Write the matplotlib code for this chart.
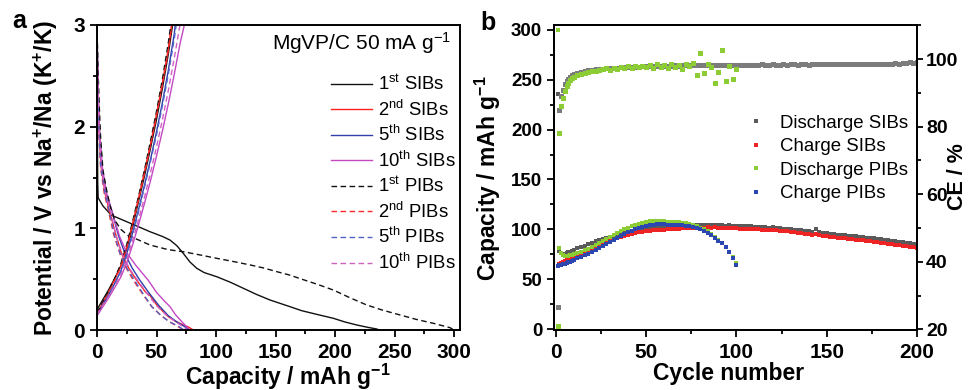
import matplotlib
matplotlib.use("Agg")
import matplotlib.pyplot as plt
from matplotlib.ticker import MultipleLocator

plt.rcParams["font.family"] = "Liberation Sans"
plt.rcParams["font.weight"] = "bold"
plt.rcParams["axes.labelweight"] = "bold"
plt.rcParams["mathtext.default"] = "regular"

# ---------------- panel a: galvanostatic profiles (capacity, potential) ----------------
# discharge branches
sib1_dis_x = [0, 0.3, 0.6, 1, 5, 12, 22, 32, 44.5, 55, 61.3, 67, 72.5, 78, 83.8, 90, 100.6, 112, 123, 134,
              145.4, 162, 172, 186, 198.6, 208, 218, 228, 235, 237]
sib1_dis_y = [3.0, 2.0, 1.45, 1.3, 1.22, 1.13, 1.08, 1.03, 0.967, 0.92, 0.885, 0.83, 0.754, 0.67, 0.607, 0.565, 0.524, 0.47, 0.41, 0.35,
              0.295, 0.23, 0.19, 0.15, 0.115, 0.08, 0.05, 0.025, 0.01, 0.0]
pib1_dis_x = [0, 0.8, 1.7, 3, 5, 8, 11, 15, 20, 26, 35, 44.5, 60, 72.5, 88, 100.6, 114, 128.6, 140, 151,
              162, 172, 185, 198.6, 212, 226.6, 240, 254.6, 268, 282.6, 296.6, 300]
pib1_dis_y = [3.0, 2.6, 2.26, 1.9, 1.57, 1.38, 1.22, 1.08, 0.99, 0.93, 0.885, 0.836, 0.79, 0.77, 0.735, 0.705, 0.675, 0.64, 0.61, 0.574,
              0.54, 0.5, 0.45, 0.393, 0.32, 0.246, 0.195, 0.148, 0.105, 0.066, 0.023, 0.0]
sib2_dis_x = [0, 0.5, 1.5, 3.5, 7, 11, 16, 20.7, 27, 33.3, 41, 44.5, 50, 58, 61.3, 66, 72.5, 76.7, 81]
sib2_dis_y = [3.0, 2.5, 2.0, 1.6, 1.33, 1.15, 0.93, 0.75, 0.6, 0.49, 0.37, 0.34, 0.25, 0.15, 0.12, 0.085, 0.05, 0.03, 0.0]
sib5_dis_x = [0, 0.6, 1.8, 4, 7.5, 12.3, 18, 23.5, 29.5, 36, 44, 52, 60, 67, 74, 78]
sib5_dis_y = [3.0, 2.5, 2.0, 1.6, 1.35, 1.18, 0.93, 0.75, 0.61, 0.49, 0.36, 0.24, 0.14, 0.08, 0.03, 0.0]
sib10_dis_x = [0, 0.7, 2, 4.5, 8, 13, 19, 24.9, 33, 43, 50, 57, 61.3, 66, 72.5, 78]
sib10_dis_y = [3.0, 2.5, 2.0, 1.6, 1.35, 1.15, 0.92, 0.76, 0.63, 0.49, 0.37, 0.28, 0.23, 0.15, 0.066, 0.0]
pib2_dis_x = [0, 0.4, 1.3, 3, 6, 9.5, 14, 19.3, 25, 30.5, 38, 46, 54, 61, 67, 73]
pib2_dis_y = [2.9, 2.5, 2.0, 1.6, 1.35, 1.18, 0.94, 0.75, 0.6, 0.49, 0.36, 0.23, 0.14, 0.08, 0.04, 0.0]
pib5_dis_x = [0, 0.5, 1.4, 3.2, 6.5, 10, 14.5, 19.5, 25.5, 31.5, 38.5, 46, 54, 61, 68, 73]
pib5_dis_y = [2.9, 2.5, 2.0, 1.6, 1.35, 1.18, 0.94, 0.75, 0.6, 0.49, 0.36, 0.23, 0.14, 0.08, 0.04, 0.0]
pib10_dis_x = [0, 0.6, 1.7, 3.8, 7, 11, 16, 21, 27.5, 34, 42, 50, 58, 65, 72, 76]
pib10_dis_y = [2.95, 2.5, 2.0, 1.6, 1.35, 1.18, 0.93, 0.75, 0.6, 0.49, 0.36, 0.24, 0.15, 0.09, 0.035, 0.0]

# charge branches
sib1_chg_x = [0, 5, 10, 15, 20, 25, 30, 35, 40, 45, 50, 55, 60, 63.5]
sib1_chg_y = [0.2, 0.3, 0.4, 0.51, 0.63, 0.8, 1.02, 1.27, 1.52, 1.79, 2.07, 2.38, 2.72, 3.0]
pib1_chg_x = [0, 5, 10, 15, 20, 25, 30, 35, 40, 45, 50, 55, 60, 62]
pib1_chg_y = [0.17, 0.28, 0.39, 0.51, 0.65, 0.84, 1.07, 1.32, 1.58, 1.86, 2.15, 2.47, 2.83, 3.0]
sib2_chg_x = [0, 5, 10, 15, 20, 25, 30, 35, 40, 45, 50, 55, 60, 62.7]
sib2_chg_y = [0.16, 0.27, 0.38, 0.5, 0.63, 0.82, 1.05, 1.3, 1.56, 1.83, 2.12, 2.43, 2.77, 3.0]
pib2_chg_x = [0, 5, 10, 15, 20, 25, 30, 35, 40, 45, 50, 55, 60, 62.8]
pib2_chg_y = [0.15, 0.26, 0.37, 0.49, 0.62, 0.81, 1.04, 1.29, 1.55, 1.82, 2.11, 2.42, 2.76, 3.0]
sib5_chg_x = [0, 5, 10, 15, 20, 25, 30, 35, 40, 45, 50, 55, 60, 65, 65.7]
sib5_chg_y = [0.15, 0.25, 0.35, 0.46, 0.58, 0.75, 0.96, 1.19, 1.43, 1.68, 1.95, 2.24, 2.56, 2.92, 3.0]
pib5_chg_x = [0, 5, 10, 15, 20, 25, 30, 35, 40, 45, 50, 55, 60, 65, 66.5]
pib5_chg_y = [0.15, 0.25, 0.35, 0.46, 0.57, 0.73, 0.94, 1.17, 1.41, 1.66, 1.92, 2.21, 2.52, 2.87, 3.0]
pib10_chg_x = [0, 5, 10, 15, 20, 25, 30, 35, 40, 45, 50, 55, 60, 65, 69.7]
pib10_chg_y = [0.15, 0.24, 0.33, 0.43, 0.54, 0.69, 0.88, 1.09, 1.31, 1.55, 1.8, 2.07, 2.36, 2.68, 3.0]
sib10_chg_x = [0, 5, 10, 15, 20, 25, 30, 35, 40, 45, 50, 55, 60, 65, 70, 73.4]
sib10_chg_y = [0.14, 0.23, 0.32, 0.42, 0.52, 0.66, 0.84, 1.04, 1.25, 1.47, 1.71, 1.96, 2.23, 2.52, 2.83, 3.0]

# ---------------- panel b: cycling (capacity + coulombic efficiency) ----------------
cycles_sib = list(range(1, 11)) + list(range(12, 201, 2))
cycles_pib = list(range(1, 11)) + list(range(12, 101, 2))

dis_sib = [236, 78, 76, 75, 75.5, 76, 77, 77.5, 78.5, 79.5,
           81, 82.5, 83.5, 85, 86.5, 88, 89, 90.5, 91.5, 92.5, 93.5, 94.5, 95.5, 96.5, 97.5, 98, 99, 99.5, 100.5, 101,
           101.5, 102, 102.5, 103, 103, 103.5, 103.5, 104, 104, 104, 104, 104.5, 104, 104.5, 104.5, 104, 104.5, 104, 104,
           104, 104, 103.5, 104, 103.5, 103.5,
           103.5, 103, 103, 103, 102.5, 102.5, 102, 102, 101.5, 102, 101.5, 101, 100.5, 100.5, 100, 99.5, 99, 99, 98.5,
           98, 97.5, 100.5, 97, 96.5, 96,
           95.5, 95, 94.5, 94.5, 94, 93.5, 93, 93, 92.5, 92, 91.5, 91.5, 91, 90.5, 90, 89.5, 89, 88.5, 88, 87.5, 87,
           86.5, 86, 85.5, 85]
chg_sib = [63, 65, 66, 67, 68, 69, 70, 71, 72, 73,
           74.5, 76, 77.5, 79, 80.5, 82, 83.5, 85, 86.5, 88, 89.5, 91, 92.5, 93.5, 94.5, 95.5, 96.5, 97, 97.5, 98,
           98.5, 99, 99, 99.5, 99.5, 100, 100, 100.5, 100.5, 101, 101, 101, 101.5, 101.5, 101.5, 101.5, 102, 101.5, 102,
           101.5, 101.5, 101.5, 101, 101, 101,
           100.5, 100.5, 100.5, 100, 100, 100, 99.5, 99.5, 99.5, 99, 99, 98.5, 98, 98, 97.5, 97, 96.5, 96, 95.5, 95,
           94.5, 95, 94, 93.5, 93,
           92.5, 92, 91.5, 91.5, 91, 90.5, 90, 89.5, 89.5, 89, 88.5, 88, 87.5, 87, 86.5, 86, 85.5, 85, 84.5, 84, 83.5,
           83, 82.5, 82, 81.5]
dis_pib = [300, 81, 76, 74, 73, 73, 73.5, 74, 74.5, 75,
           76, 77.5, 79, 80.5, 82, 84, 86, 88, 90, 92, 94, 96, 98, 100, 101.5, 103, 104.5, 105.5, 106.5, 107.5,
           108, 108.5, 108.5, 108, 108, 107.5, 107.5, 107, 107, 106.5, 106, 105, 104, 103, 101.5, 100, 98, 95.5, 92,
           89.5, 86, 82, 77, 72, 66]
chg_pib = [63, 64, 64.5, 65, 65.5, 66.5, 67, 67.5, 68.5, 69.5,
           71, 72.5, 74, 75.5, 77.5, 79.5, 81.5, 83.5, 85.5, 87.5, 89.5, 91.5, 93.5, 95.5, 97, 98.5, 100, 101.5, 102.5,
           103.5,
           104, 104.5, 105, 105, 105, 104.5, 104.5, 104.5, 104, 104, 103.5, 103, 102, 101, 100, 98.5, 96.5, 94, 91, 88,
           86, 82, 77, 71, 64]
ce_sib = [26.5, 85, 89, 91, 92.5, 93.5, 94.2, 94.8, 95.2, 95.6,
          96.0, 96.2, 96.5, 96.7, 96.8, 97.0, 97.1, 97.2, 97.3, 97.4, 97.4, 97.5, 97.6, 97.6, 97.7, 97.7, 97.8, 97.8,
          97.9, 97.9,
          98.0, 97.9, 98.0, 98.1, 98.0, 98.1, 98.1, 98.2, 98.1, 98.2, 98.2, 98.3, 98.2, 98.3, 98.2, 98.3, 98.3, 98.2,
          98.3, 98.4, 98.3, 98.3, 98.4, 98.3, 98.4,
          98.4, 98.3, 98.4, 98.4, 98.3, 98.4, 98.5, 98.4, 98.4, 98.5, 98.4, 98.4, 98.5, 98.4, 98.5, 98.5, 98.4, 98.5,
          98.5, 98.4, 98.5, 98.6, 98.5, 98.5, 98.6,
          98.5, 98.5, 98.6, 98.5, 98.6, 98.6, 98.5, 98.6, 98.6, 98.7, 98.6, 98.6, 98.7, 98.6, 98.7, 98.7, 98.6, 98.7,
          98.8, 98.7, 98.8, 98.9, 99.0, 98.9, 99.1]
ce_pib = [21, 78, 86, 88.5, 90.5, 92, 93, 93.8, 94.4, 94.8,
          95.3, 95.7, 96.0, 96.3, 96.5, 96.4, 96.8, 97.0, 97.4, 96.9, 97.5, 97.2, 97.8, 97.3, 97.9, 97.5, 98.0, 97.6,
          98.1, 97.7,
          98.3, 97.5, 98.5, 97.7, 98.2, 97.4, 98.6, 97.8, 98.3, 97.2, 98.7, 97.9, 98.9, 95.4, 101.7, 96.0, 98.5, 97.6,
          93.0, 96.1, 102.8, 93.5, 98.0, 94.0, 97.1]

# ---------------- drawing ----------------
fig = plt.figure(figsize=(9.72, 3.9), dpi=100)
axa = fig.add_axes([97 / 972, 60 / 390, 363 / 972, 305 / 390])
axb = fig.add_axes([554 / 972, 60 / 390, 363 / 972, 305 / 390])

dash = (0, (4, 2.5))
curves = [
    ("1$^{st}$ SIBs", "#111111", "-", sib1_dis_x, sib1_dis_y, sib1_chg_x, sib1_chg_y),
    ("2$^{nd}$ SIBs", "#ff2020", "-", sib2_dis_x, sib2_dis_y, sib2_chg_x, sib2_chg_y),
    ("5$^{th}$ SIBs", "#3040aa", "-", sib5_dis_x, sib5_dis_y, sib5_chg_x, sib5_chg_y),
    ("10$^{th}$ SIBs", "#c448c4", "-", sib10_dis_x, sib10_dis_y, sib10_chg_x, sib10_chg_y),
    ("1$^{st}$ PIBs", "#111111", dash, pib1_dis_x, pib1_dis_y, pib1_chg_x, pib1_chg_y),
    ("2$^{nd}$ PIBs", "#ff2828", dash, pib2_dis_x, pib2_dis_y, pib2_chg_x, pib2_chg_y),
    ("5$^{th}$ PIBs", "#5264c8", dash, pib5_dis_x, pib5_dis_y, pib5_chg_x, pib5_chg_y),
    ("10$^{th}$ PIBs", "#d060c0", dash, pib10_dis_x, pib10_dis_y, pib10_chg_x, pib10_chg_y),
]
for label, color, ls, dx, dy, cx, cy in curves:
    axa.plot(dx, dy, color=color, ls=ls, lw=1.0, label=label)
    axa.plot(cx, cy, color=color, ls=ls, lw=1.0)

axa.set_xlim(0, 305)
axa.set_ylim(0, 3)
axa.xaxis.set_major_locator(MultipleLocator(50))
axa.xaxis.set_minor_locator(MultipleLocator(25))
axa.yaxis.set_major_locator(MultipleLocator(1))
axa.yaxis.set_minor_locator(MultipleLocator(0.5))
axa.set_xlabel("Capacity / mAh g$^{-1}$", fontsize=16.5)
axa.set_ylabel("Potential / V vs Na$^{+}$/Na (K$^{+}$/K)", fontsize=16.5)
axa.xaxis.set_label_coords(0.526, -0.104)
axa.yaxis.set_label_coords(-0.102, 0.5)
axa.text(0.977, 0.918, "MgVP/C 50 mA g$^{-1}$", transform=axa.transAxes, ha="right", va="baseline",
         fontsize=15, fontweight="normal")
axa.legend(loc="upper left", bbox_to_anchor=(0.645, 0.838), frameon=False, prop={"size": 13.3, "weight": "normal"},
           handlelength=2.2, handletextpad=0.35, labelspacing=0.3, borderpad=0, borderaxespad=0)

# panel b
gray, red, green, blue = "#5a5a5a", "#ee2424", "#8ccc34", "#2c48b0"
axb.plot(cycles_sib, dis_sib, "s", ms=3.2, color=gray, mew=0, label="Discharge SIBs")
axb.plot(cycles_sib, chg_sib, "s", ms=3.2, color=red, mew=0, label="Charge SIBs")
axb.plot(cycles_pib, dis_pib, "s", ms=3.2, color=green, mew=0, label="Discharge PIBs")
axb.plot(cycles_pib, chg_pib, "s", ms=3.2, color=blue, mew=0, label="Charge PIBs")

ax2 = axb.twinx()
ax2.plot(cycles_sib, ce_sib, "s", ms=3.6, color="#7c7c7c", mew=0)
ax2.plot(cycles_pib, ce_pib, "s", ms=3.6, color=green, mew=0)

axb.set_xlim(-1, 200)
axb.set_ylim(-1, 305)
ax2.set_ylim(19.8, 110.1)
axb.xaxis.set_major_locator(MultipleLocator(50))
axb.xaxis.set_minor_locator(MultipleLocator(25))
axb.yaxis.set_major_locator(MultipleLocator(50))
axb.yaxis.set_minor_locator(MultipleLocator(25))
ax2.yaxis.set_major_locator(MultipleLocator(20))
ax2.yaxis.set_minor_locator(MultipleLocator(10))
axb.set_xlabel("Cycle number", fontsize=16.5)
axb.set_ylabel("Capacity / mAh g$^{-1}$", fontsize=16.5)
ax2.set_ylabel("CE / %", fontsize=15.5)
axb.xaxis.set_label_coords(0.482, -0.104)
axb.yaxis.set_label_coords(-0.140, 0.497)
ax2.yaxis.set_label_coords(1.084, 0.503)
axb.legend(loc="upper left", bbox_to_anchor=(0.53, 0.705), frameon=False, prop={"size": 13.4, "weight": "normal"},
           handlelength=1.0, handletextpad=0.8, labelspacing=0.34, borderpad=0, borderaxespad=0)

for ax in (axa, axb, ax2):
    for sp in ax.spines.values():
        sp.set_linewidth(1.4)
    ax.tick_params(which="major", direction="out", length=5, width=1.3, labelsize=15, pad=4)
    ax.tick_params(which="minor", direction="out", length=3, width=1.3)
axa.tick_params(axis="y", pad=3.5)
axb.tick_params(axis="y", labelsize=13.5, pad=3.5)
ax2.tick_params(axis="y", labelsize=14, pad=2)
ax2.tick_params(axis="y", which="major", length=4.5)

fig.text(0.0123, 0.928, "a", fontsize=18, fontweight="bold", va="baseline")
fig.text(0.494, 0.923, "b", fontsize=18, fontweight="bold", va="baseline")

fig.savefig("out.png", dpi=100)
